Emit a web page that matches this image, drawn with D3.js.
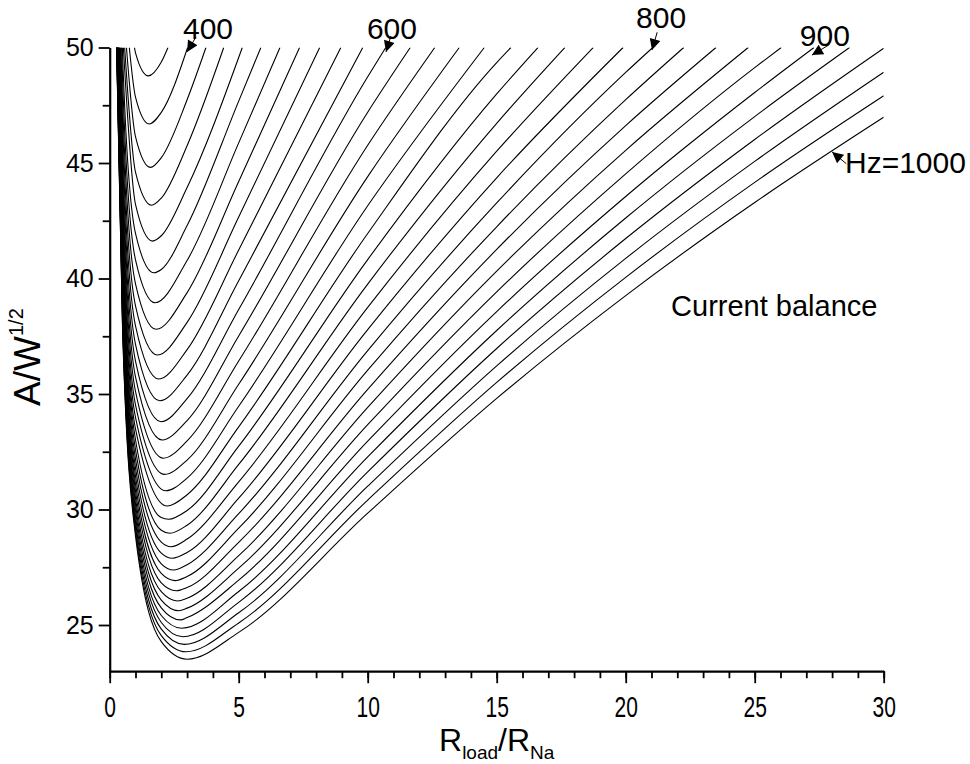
<!DOCTYPE html>
<html>
<head>
<meta charset="utf-8">
<script src="https://cdn.jsdelivr.net/npm/d3@7/dist/d3.min.js"></script>
<style>
  body { margin: 0; background: #fff; }
  text { font-family: Arial, "Liberation Sans", sans-serif; fill: #000; }
</style>
</head>
<body>
<script>
// One curve per frequency (Hz), top curve first
const freqs = [380, 400, 420, 440, 460, 480, 500, 520, 540, 560, 580, 600, 620, 640, 660, 680,
  700, 720, 740, 760, 780, 800, 820, 840, 860, 880, 900, 920, 940, 960, 980, 1000];

// where the left branch leaves the top of the frame (A/W^1/2 = 50)
const xLeftTop = [0.96, 0.76, 0.65, 0.58, 0.53, 0.49, 0.46, 0.43, 0.41, 0.39, 0.38, 0.37, 0.355, 0.345, 0.336, 0.328,
  0.321, 0.315, 0.309, 0.304, 0.299, 0.295, 0.291, 0.287, 0.284, 0.281, 0.278, 0.276, 0.273, 0.271, 0.269, 0.267];

// bottom of each curve
const xMin = [1.5, 1.53, 1.58, 1.62, 1.66, 1.71, 1.76, 1.8, 1.85, 1.9, 1.94, 1.99, 2.03, 2.08, 2.13, 2.18,
  2.23, 2.28, 2.33, 2.38, 2.43, 2.48, 2.53, 2.58, 2.63, 2.68, 2.74, 2.79, 2.84, 2.89, 2.95, 3.0];
const yMin = [48.77, 46.69, 44.81, 43.17, 41.62, 40.25, 38.95, 37.80, 36.69, 35.65, 34.71, 33.80, 33.01, 32.22, 31.52, 30.81,
  30.15, 29.58, 28.97, 28.39, 27.89, 27.38, 26.92, 26.48, 26.04, 25.62, 25.22, 24.86, 24.49, 24.16, 23.84, 23.52];

// A/W^1/2 read at fixed R_load/R_Na, null where the curve is above the frame
const sampleX = [0.5, 1, 2, 3, 5, 10, 15, 20, 25, 30];
const sampleY = [
  [null, 49.77, 49.37, null, null, null, null, null, null, null],
  [null, 47.85, 47.19, null, null, null, null, null, null, null],
  [null, 46.14, 45.23, 47.74, null, null, null, null, null, null],
  [null, 44.60, 43.48, 45.75, null, null, null, null, null, null],
  [null, 43.21, 41.85, 43.94, null, null, null, null, null, null],
  [49.65, 41.95, 40.39, 42.29, 47.68, null, null, null, null, null],
  [48.57, 40.81, 39.05, 40.78, 45.87, null, null, null, null, null],
  [47.59, 39.77, 37.83, 39.39, 44.20, null, null, null, null, null],
  [46.70, 38.82, 36.70, 38.10, 42.66, null, null, null, null, null],
  [45.89, 37.95, 35.66, 36.92, 41.23, null, null, null, null, null],
  [45.15, 37.15, 34.71, 35.82, 39.90, null, null, null, null, null],
  [44.47, 36.42, 33.82, 34.80, 38.66, 48.73, null, null, null, null],
  [43.84, 35.74, 32.99, 33.85, 37.51, 47.20, null, null, null, null],
  [43.27, 35.11, 32.23, 32.97, 36.43, 45.77, null, null, null, null],
  [42.74, 34.53, 31.52, 32.14, 35.42, 44.41, null, null, null, null],
  [42.25, 33.99, 30.85, 31.36, 34.47, 43.15, null, null, null, null],
  [41.80, 33.49, 30.23, 30.64, 33.58, 41.95, 49.35, null, null, null],
  [41.38, 33.02, 29.65, 29.96, 32.74, 40.82, 47.99, null, null, null],
  [40.99, 32.59, 29.10, 29.32, 31.95, 39.76, 46.72, null, null, null],
  [40.63, 32.18, 28.59, 28.72, 31.20, 38.75, 45.51, null, null, null],
  [40.29, 31.80, 28.11, 28.14, 30.49, 37.79, 44.36, null, null, null],
  [39.98, 31.45, 27.65, 27.61, 29.82, 36.88, 43.27, 48.92, null, null],
  [39.68, 31.11, 27.23, 27.10, 29.19, 36.03, 42.24, 47.74, null, null],
  [39.41, 30.80, 26.82, 26.62, 28.58, 35.20, 41.26, 46.62, null, null],
  [39.15, 30.50, 26.44, 26.16, 28.00, 34.42, 40.32, 45.55, null, null],
  [38.90, 30.22, 26.08, 25.73, 27.46, 33.67, 39.42, 44.53, 49.13, null],
  [38.68, 29.96, 25.74, 25.32, 26.94, 32.96, 38.57, 43.55, 48.05, null],
  [38.46, 29.71, 25.41, 24.92, 26.45, 32.28, 37.75, 42.62, 47.01, null],
  [38.26, 29.48, 25.11, 24.55, 25.98, 31.63, 36.97, 41.73, 46.02, 49.97],
  [38.07, 29.26, 24.82, 24.20, 25.53, 31.01, 36.22, 40.87, 45.07, 48.93],
  [37.89, 29.05, 24.54, 23.86, 25.09, 30.41, 35.50, 40.05, 44.16, 47.91],
  [37.72, 28.86, 24.28, 23.54, 24.68, 29.84, 34.81, 39.26, 43.29, 46.98]
];

// where the right branch leaves the top of the frame, null if it runs out at R = 30
const xRightTop = [2.26, 3.02, 3.73, 4.42, 5.14, 5.86, 6.6, 7.36, 8.14, 8.96, 9.81, 10.7, 11.65, 12.6, 13.55, 14.52,
  15.55, 16.6, 17.64, 18.74, 19.9, 21.05, 22.25, 23.5, 24.75, 26.03, 27.3, 28.68, null, null, null, null];

const xTicks = [0, 5, 10, 15, 20, 25, 30];
const yTicks = [25, 30, 35, 40, 45, 50];

// labels pointing at some of the curves
const notes = [
  { text: "400", lx: 3.81, ly: 50.84, tx: 3.34, ty: 50.45, ax: 3.0, ay: 49.81, anchor: "middle" },
  { text: "600", lx: 10.94, ly: 50.84, tx: 10.9, ty: 50.5, ax: 10.71, ay: 49.81, anchor: "middle" },
  { text: "800", lx: 21.37, ly: 51.28, tx: 21.22, ty: 50.66, ax: 21.02, ay: 49.89, anchor: "middle" },
  { text: "900", lx: 27.72, ly: 50.54, tx: 27.9, ty: 50.13, ax: 27.22, ay: 49.67, anchor: "middle" },
  { text: "Hz=1000", lx: 28.5, ly: 45.04, tx: 28.55, ty: 44.97, ax: 28.0, ay: 45.48, anchor: "start" }
];

const W = 970, H = 764;
const margin = { top: 47.5, right: 86.3, bottom: 92.8, left: 109.7 };
const width = W - margin.left - margin.right;
const height = H - margin.top - margin.bottom;

const x = d3.scaleLinear().domain([0, 30]).range([0, width]);
const y = d3.scaleLinear().domain([23, 50]).range([height, 0]);

const svg = d3.select("body").append("svg")
  .attr("width", W)
  .attr("height", H);

const defs = svg.append("defs");
defs.append("clipPath").attr("id", "plot")
  .append("rect").attr("width", width).attr("height", height);
defs.append("marker")
  .attr("id", "head")
  .attr("viewBox", "0 0 10 10")
  .attr("refX", 10).attr("refY", 5)
  .attr("markerUnits", "userSpaceOnUse")
  .attr("markerWidth", 15).attr("markerHeight", 11)
  .attr("orient", "auto")
  .append("path").attr("d", "M0,0L10,5L0,10Z").attr("fill", "#000");

const g = svg.append("g")
  .attr("transform", `translate(${margin.left},${margin.top})`);

// build each curve from the values read above
const curves = freqs.map((f, i) => {
  const pts = [[xLeftTop[i], 50]];
  sampleX.forEach((sx, j) => {
    const v = sampleY[i][j];
    if (v != null && Math.abs(sx - xMin[i]) >= 0.25) pts.push([sx, v]);
  });
  pts.push([xMin[i], yMin[i]]);
  if (xRightTop[i] != null) pts.push([xRightTop[i], 50]);
  pts.sort((a, b) => a[0] - b[0]);
  return { f, pts };
});

const line = d3.line()
  .x(d => x(d[0]))
  .y(d => y(d[1]))
  .curve(d3.curveMonotoneX);

g.append("g")
  .attr("clip-path", "url(#plot)")
  .selectAll("path")
  .data(curves)
  .join("path")
  .attr("fill", "none")
  .attr("stroke", "#000")
  .attr("stroke-width", 1.1)
  .attr("d", d => line(d.pts));

// minor ticks first, then the labelled axes over them
g.append("g")
  .attr("transform", `translate(0,${height})`)
  .call(d3.axisBottom(x).tickValues(d3.range(0, 31, 1)).tickSize(7).tickFormat(""))
  .call(a => a.select(".domain").remove());
g.append("g")
  .call(d3.axisLeft(y).tickValues([27.5, 32.5, 37.5, 42.5, 47.5]).tickSize(7).tickFormat(""))
  .call(a => a.select(".domain").remove());

const xAxis = g.append("g")
  .attr("transform", `translate(0,${height})`)
  .call(d3.axisBottom(x).tickValues(xTicks).tickSize(12).tickSizeOuter(0).tickPadding(6));
const yAxis = g.append("g")
  .call(d3.axisLeft(y).tickValues(yTicks).tickSize(11).tickSizeOuter(0).tickPadding(5));

g.selectAll(".tick line").attr("stroke-width", 1.8);
g.selectAll(".domain").attr("stroke-width", 2.2);
xAxis.selectAll("text")
  .attr("font-size", 21)
  .attr("font-family", "Arial, 'Liberation Sans', sans-serif")
  .attr("transform", "scale(1,1.4)");
yAxis.selectAll("text")
  .attr("font-size", 25)
  .attr("font-family", "Arial, 'Liberation Sans', sans-serif");

// axis titles
const xt = g.append("text")
  .attr("x", x(15)).attr("y", height + 80)
  .attr("text-anchor", "middle")
  .attr("font-size", 32);
xt.append("tspan").text("R");
xt.append("tspan").text("load").attr("font-size", 19).attr("dy", 8);
xt.append("tspan").text("/R").attr("dy", -8);
xt.append("tspan").text("Na").attr("font-size", 19).attr("dy", 8);

const yt = g.append("text")
  .attr("transform", `translate(${-70},${y(36.6)}) rotate(-90)`)
  .attr("text-anchor", "middle")
  .attr("font-size", 37);
yt.append("tspan").text("A/W");
yt.append("tspan").text("1/2").attr("font-size", 20).attr("dy", -17);

g.append("text")
  .attr("x", x(21.76)).attr("y", y(38.81))
  .attr("dy", "0.35em")
  .attr("font-size", 29)
  .text("Current balance");

// curve labels with arrows
const nt = g.append("g");
nt.selectAll("line")
  .data(notes)
  .join("line")
  .attr("x1", d => x(d.tx)).attr("y1", d => y(d.ty))
  .attr("x2", d => x(d.ax)).attr("y2", d => y(d.ay))
  .attr("stroke", "#000")
  .attr("stroke-width", 1)
  .attr("marker-end", "url(#head)");
nt.selectAll("text")
  .data(notes)
  .join("text")
  .attr("x", d => x(d.lx)).attr("y", d => y(d.ly))
  .attr("dy", "0.35em")
  .attr("text-anchor", d => d.anchor)
  .attr("font-size", 30)
  .text(d => d.text);
</script>
</body>
</html>
